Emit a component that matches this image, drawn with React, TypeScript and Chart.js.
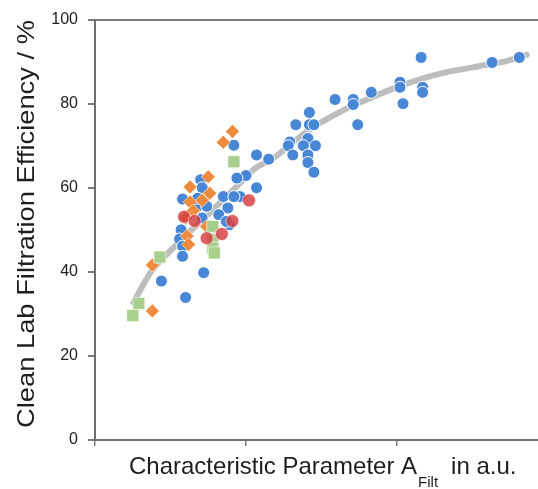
import React, { useEffect, useRef } from 'react';
import { Chart, registerables } from 'chart.js';

Chart.register(...registerables);

// ---- data ----
const blueX = [2.16, 2.63, 2.81, 2.02, 2.02, 2.17, 2.17, 2.04, 1.83, 1.71, 1.71, 1.59, 1.74, 1.42, 1.42, 1.45, 1.33, 1.41, 1.29, 1.28, 1.38, 1.46, 1.31, 1.41, 1.41, 1.45, 1.07, 1.15, 1.00, 1.07, 0.96,
  0.92, 0.94, 0.70, 0.71, 0.85, 0.92, 0.58, 0.67, 0.88, 0.82, 0.71, 0.89, 0.57, 0.56, 0.58, 0.58, 0.72, 0.44, 0.60, 0.68, 0.74, 0.87];
const blueY = [91.0, 89.8, 91.0, 85.1, 83.9, 83.9, 82.7, 80.0, 82.7, 81.0, 79.8, 81.0, 75.0, 77.9, 75.0, 75.0, 75.0, 71.7, 70.9, 70.0, 70.0, 70.0, 67.8, 67.8, 66.0, 63.7, 67.8, 66.8, 62.9, 60.0, 57.9,
  70.1, 62.3, 61.9, 60.0, 57.9, 57.9, 57.3, 55.2, 55.2, 53.6, 52.8, 51.2, 50.0, 47.8, 46.1, 43.7, 39.8, 37.8, 33.9, 57.5, 55.6, 52.0];

const orangeX = [0.91, 0.85, 0.75, 0.63, 0.76, 0.71, 0.63, 0.65, 0.60, 0.74, 0.61, 0.62, 0.38, 0.38];
const orangeY = [73.4, 70.8, 62.6, 60.2, 58.7, 57.0, 56.6, 54.5, 52.8, 50.8, 48.5, 46.5, 41.6, 30.7];

const greenX = [0.92, 0.78, 0.78, 0.78, 0.79, 0.43, 0.29, 0.25];
const greenY = [66.2, 50.8, 47.7, 45.7, 44.5, 43.5, 32.5, 29.6];

const redX = [1.02, 0.59, 0.66, 0.91, 0.84, 0.74];
const redY = [57.0, 53.1, 52.1, 52.1, 49.0, 48.0];

const curveX = [0.254, 0.375, 0.53, 0.77, 0.905, 1.06, 1.18, 1.40, 1.62, 1.84, 2.06, 2.28, 2.51, 2.73, 2.86];
const curveY = [32.7, 40.2, 46.1, 54.4, 59.1, 64.6, 67.0, 73.3, 78.0, 81.6, 84.7, 87.1, 88.7, 90.2, 91.6];

const yTickValues = [0, 20, 40, 60, 80, 100];
const xTickValues = [0, 1, 2];

const yTitle = 'Clean Lab Filtration Efficiency / %';
const xTitleMain = 'Characteristic Parameter A';
const xTitleSub = 'Filt';
const xTitleTail = 'in a.u.';

const FONT = '"Liberation Sans", Arial, sans-serif';

const pts = (xs: number[], ys: number[]) => xs.map((x, i) => ({ x, y: ys[i] }));

const titlePlugin = {
  id: 'customTitles',
  afterDraw(chart: any) {
    const ctx = chart.ctx as CanvasRenderingContext2D;
    ctx.save();
    ctx.fillStyle = '#1e1e1e';
    ctx.font = `24px ${FONT}`;
    ctx.translate(34, 224);
    ctx.rotate(-Math.PI / 2);
    const w = ctx.measureText(yTitle).width;
    ctx.scale(408 / w, 1);
    ctx.textAlign = 'center';
    ctx.textBaseline = 'alphabetic';
    ctx.fillText(yTitle, 0, 0);
    ctx.restore();

    ctx.save();
    ctx.fillStyle = '#1e1e1e';
    ctx.textAlign = 'left';
    ctx.textBaseline = 'alphabetic';
    ctx.font = `24px ${FONT}`;
    let x = 129;
    ctx.fillText(xTitleMain, x, 474);
    x += ctx.measureText(xTitleMain).width;
    ctx.font = `15px ${FONT}`;
    ctx.fillText(xTitleSub, x + 1, 487);
    x += ctx.measureText(xTitleSub).width + 1;
    ctx.font = `24px ${FONT}`;
    ctx.fillText(xTitleTail, x + 13, 474);
    ctx.restore();
  },
};

export default function App() {
  const ref = useRef<HTMLCanvasElement | null>(null);

  useEffect(() => {
    document.body.style.margin = '0';
    if (!ref.current) return;
    const chart = new Chart(ref.current, {
      type: 'scatter',
      data: {
        datasets: [
          {
            label: 'red',
            data: pts(redX, redY),
            backgroundColor: 'rgba(214, 60, 62, 0.82)',
            borderColor: 'rgba(255,255,255,0.6)',
            borderWidth: 1,
            pointStyle: 'circle',
            pointRadius: 6.5,
            order: 1,
          },
          {
            label: 'green',
            data: pts(greenX, greenY),
            backgroundColor: '#a8cf8c',
            borderColor: 'rgba(255,255,255,0.6)',
            borderWidth: 1,
            pointStyle: 'rect',
            pointRadius: 8.5,
            order: 2,
          },
          {
            label: 'orange',
            data: pts(orangeX, orangeY),
            backgroundColor: '#ee8b3f',
            borderColor: 'rgba(255,255,255,0.6)',
            borderWidth: 1,
            pointStyle: 'rectRot',
            pointRadius: 7,
            order: 3,
          },
          {
            label: 'blue',
            data: pts(blueX, blueY),
            backgroundColor: '#4887d6',
            borderColor: '#ffffff',
            borderWidth: 1,
            pointStyle: 'circle',
            pointRadius: 6,
            order: 4,
          },
          {
            label: 'fit',
            data: pts(curveX, curveY),
            showLine: true,
            borderColor: '#bdbdbd',
            borderWidth: 6,
            borderCapStyle: 'round',
            borderJoinStyle: 'round',
            cubicInterpolationMode: 'monotone',
            pointRadius: 0,
            order: 10,
          } as any,
        ],
      },
      options: {
        animation: false,
        responsive: false,
        layout: { autoPadding: false, padding: { top: 17, right: 0, left: 0, bottom: 0 } },
        plugins: { legend: { display: false }, tooltip: { enabled: false } },
        scales: {
          x: {
            type: 'linear',
            min: 0,
            max: 2.934,
            afterFit: (s: any) => { s.height = 49; },
            afterBuildTicks: (s: any) => { s.ticks = xTickValues.map((v) => ({ value: v })); },
            ticks: { display: false },
            grid: {
              color: 'rgba(0,0,0,0)',
              tickColor: '#7a7a7a',
              tickLength: 6,
              lineWidth: 1.5,
            },
            border: { color: '#6f6f6f', width: 2 },
          },
          y: {
            type: 'linear',
            min: 0,
            max: 100,
            afterFit: (s: any) => { s.width = 95; },
            afterBuildTicks: (s: any) => { s.ticks = yTickValues.map((v) => ({ value: v })); },
            ticks: { color: '#222', font: { size: 16, family: FONT }, padding: 10 },
            grid: {
              color: (c: any) => (c.tick && c.tick.value === 100 ? '#7d7d7d' : 'rgba(0,0,0,0)'),
              tickColor: '#7a7a7a',
              tickLength: 7,
              lineWidth: 2,
            },
            border: { color: '#6f6f6f', width: 2 },
          },
        },
      },
      plugins: [titlePlugin],
    });
    return () => chart.destroy();
  }, []);

  return (
    <div style={{ position: 'fixed', left: 0, top: 0, width: 538, height: 489 }}>
      <canvas ref={ref} width={538} height={489} style={{ width: 538, height: 489, display: 'block' }} />
    </div>
  );
}
